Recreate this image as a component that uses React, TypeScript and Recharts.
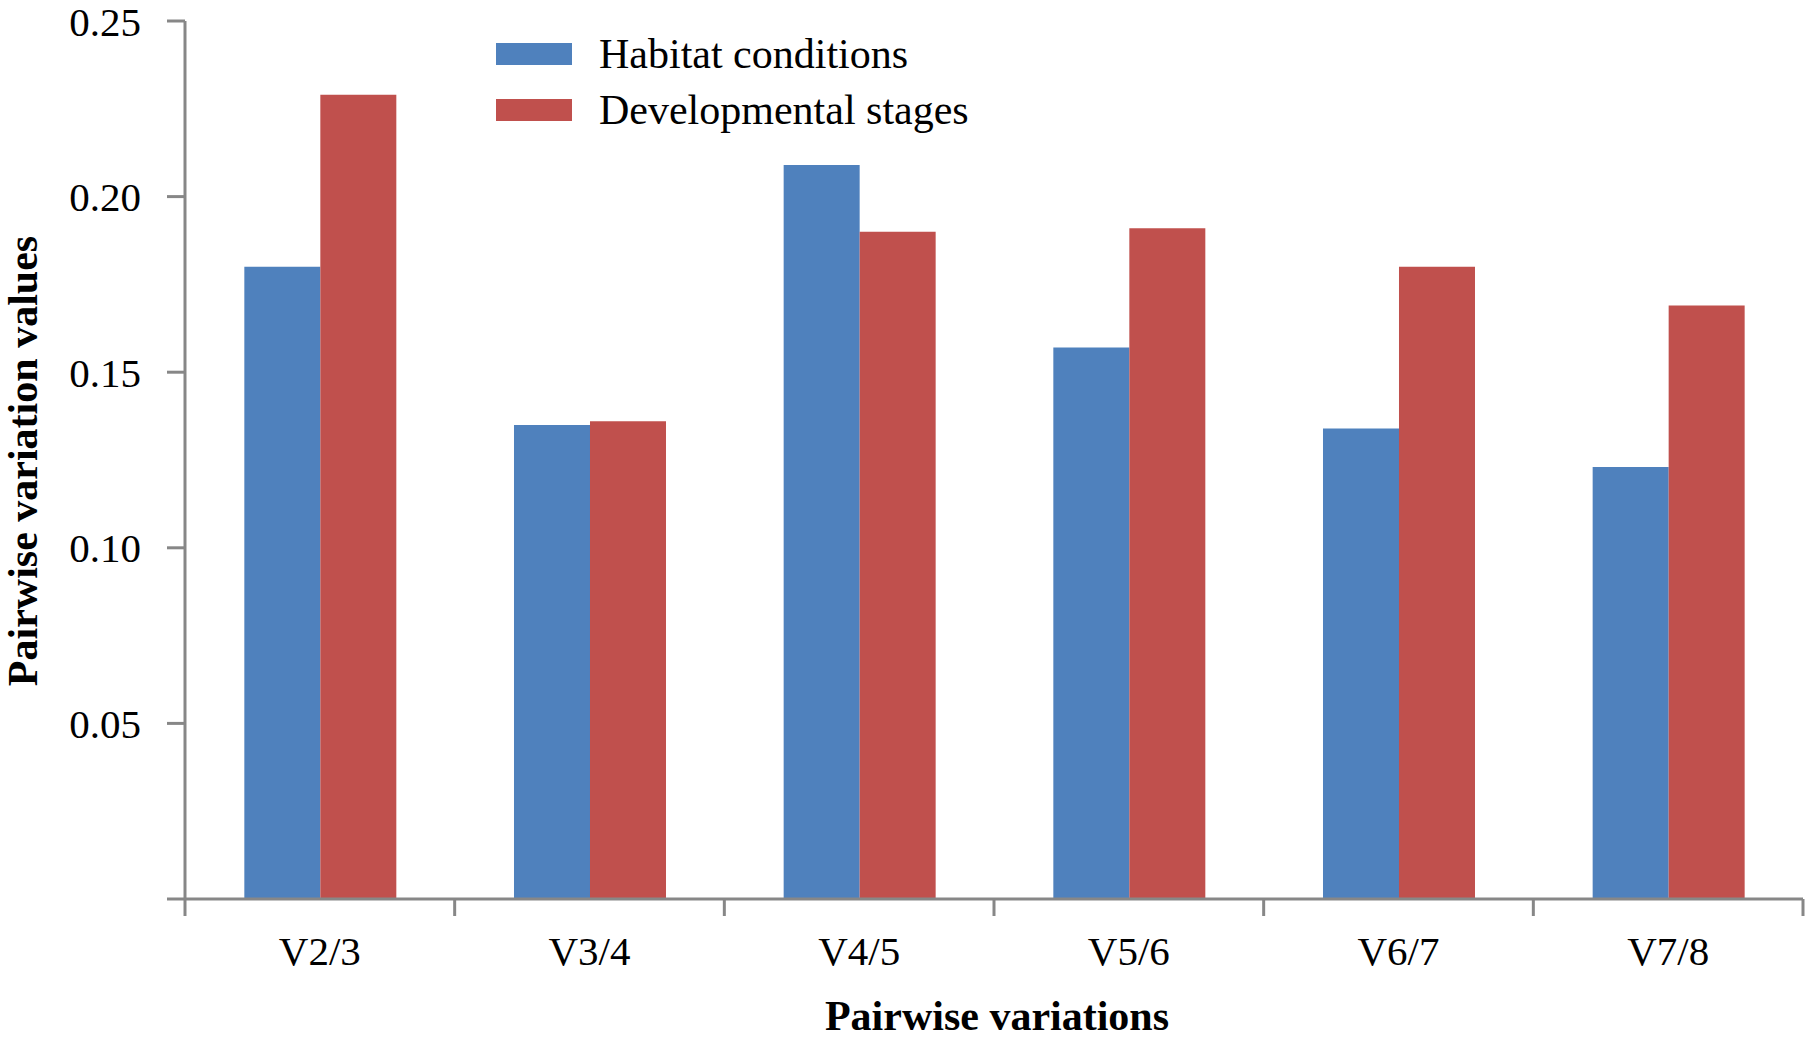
import { BarChart, Bar, XAxis, YAxis, Legend } from "recharts";

const categories = ["V2/3", "V3/4", "V4/5", "V5/6", "V6/7", "V7/8"];
const habitatConditions = [0.18, 0.135, 0.209, 0.157, 0.134, 0.123];
const developmentalStages = [0.229, 0.136, 0.19, 0.191, 0.18, 0.169];
const yTicks = [0, 0.05, 0.1, 0.15, 0.2, 0.25];
const seriesOrder = ["habitat", "stages"];

const data = categories.map((name, i) => ({
  name,
  habitat: habitatConditions[i],
  stages: developmentalStages[i],
}));

const AXIS = "#878787";
const FONT = '"Liberation Serif", "Times New Roman", serif';

// category label plus the boundary tick marks (Excel style, ticks between categories)
function CategoryTick(props: any) {
  const { x, y, payload, index, visibleTicksCount, width } = props;
  const half = payload.offset ?? width / visibleTicksCount / 2;
  return (
    <g>
      <line x1={x - half} x2={x - half} y1={y} y2={y + 17} stroke={AXIS} strokeWidth={3} />
      {index === visibleTicksCount - 1 && (
        <line x1={x + half} x2={x + half} y1={y} y2={y + 17} stroke={AXIS} strokeWidth={3} />
      )}
      <text x={x} y={y + 66} textAnchor="middle" fontSize={41} fontFamily={FONT} fill="#000">
        {payload.value}
      </text>
    </g>
  );
}

function renderLegend(props: any) {
  const items = [...props.payload].sort(
    (a: any, b: any) => seriesOrder.indexOf(a.dataKey) - seriesOrder.indexOf(b.dataKey)
  );
  return (
    <div style={{ display: "flex", flexDirection: "column" }}>
      {items.map((entry: any) => (
        <div key={entry.value} style={{ display: "flex", alignItems: "center", height: 56 }}>
          <span style={{ width: 76, height: 22, background: entry.color, marginRight: 27 }} />
          <span style={{ fontFamily: FONT, fontSize: 42, color: "#000", lineHeight: "56px" }}>
            {entry.value}
          </span>
        </div>
      ))}
    </div>
  );
}

export default function App() {
  return (
    <div style={{ position: "absolute", left: 0, top: 0, background: "#fff" }}>
      <BarChart
        width={1810}
        height={1040}
        data={data}
        margin={{ top: 21, right: 7, bottom: 0, left: 0 }}
        barCategoryGap="22%"
        barGap={0}
        style={{ fontFamily: FONT }}
      >
        <XAxis
          dataKey="name"
          height={141}
          tickSize={0}
          tickMargin={0}
          tickLine={false}
          axisLine={{ stroke: AXIS, strokeWidth: 3 }}
          tick={<CategoryTick />}
          interval={0}
          label={{
            value: "Pairwise variations",
            content: (p: any) => {
              const vb = p.viewBox;
              return (
                <text
                  x={vb.x + vb.width / 2 + 3}
                  y={vb.y + 131}
                  textAnchor="middle"
                  fontSize={42}
                  fontWeight="bold"
                  fontFamily={FONT}
                  fill="#000"
                >
                  Pairwise variations
                </text>
              );
            },
          }}
        />
        <YAxis
          width={185}
          domain={[0, 0.25]}
          ticks={yTicks}
          interval={0}
          tickSize={18}
          tickMargin={26}
          tickLine={{ stroke: AXIS, strokeWidth: 3 }}
          axisLine={{ stroke: AXIS, strokeWidth: 3 }}
          tick={{ fill: "#000", fontSize: 41, fontFamily: FONT }}
          tickFormatter={(v: number) => (v === 0 ? "" : v.toFixed(2))}
          label={{
            value: "Pairwise variation values",
            content: (p: any) => {
              const vb = p.viewBox;
              const cx = vb.x + 23;
              const cy = vb.y + vb.height / 2 + 1;
              return (
                <text
                  x={cx}
                  y={cy}
                  transform={`rotate(-90, ${cx}, ${cy})`}
                  textAnchor="middle"
                  dominantBaseline="central"
                  fontSize={42}
                  fontWeight="bold"
                  fontFamily={FONT}
                  fill="#000"
                >
                  Pairwise variation values
                </text>
              );
            },
          }}
        />
        <Legend
          layout="horizontal"
          verticalAlign="middle"
          align="center"
          content={renderLegend}
          wrapperStyle={{ left: 496, top: 26, width: "auto", height: "auto" }}
        />
        <Bar dataKey="habitat" name="Habitat conditions" fill="#4F81BD" isAnimationActive={false} />
        <Bar dataKey="stages" name="Developmental stages" fill="#C0504D" isAnimationActive={false} />
      </BarChart>
    </div>
  );
}
